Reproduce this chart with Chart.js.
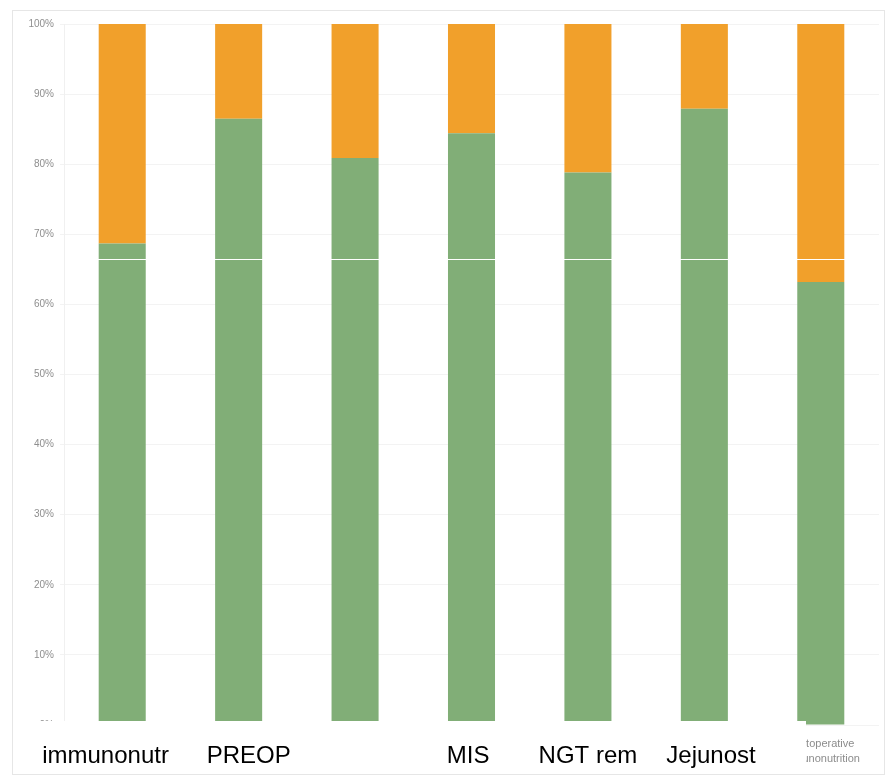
<!DOCTYPE html>
<html>
<head>
<meta charset="utf-8">
<script src="https://cdn.jsdelivr.net/npm/chart.js@4.4.1/dist/chart.umd.min.js"></script>
<style>
  html, body { margin: 0; padding: 0; background: #ffffff; }
  #wrap { width: 893px; height: 779px; }
</style>
</head>
<body>
<div id="wrap"><canvas id="c" width="893" height="779"></canvas></div>
<script>
// Category labels along the x axis
const categories = ["immunonutr", "PREOP", "", "MIS", "NGT rem", "Jejunost", ["Postoperative", "immunonutrition"]];

// Share of patients per item (percent)
const compliant    = [68.7, 86.5, 80.9, 84.4, 78.8, 87.9, 63.2];
const notCompliant = [31.3, 13.5, 19.1, 15.6, 21.2, 12.1, 36.8];

// Y axis ticks
const yTicks = [0, 10, 20, 30, 40, 50, 60, 70, 80, 90, 100];

const GREEN = "#81ae77";
const ORANGE = "#f1a02b";
const FONT = "'Liberation Sans', Arial, sans-serif";

// Nudges for the large labels, in space characters (negative = shift left)
const labelNudge = [-5, 3, 0, -1, 0, 2, 0];

function nudged(text, n) {
  if (Array.isArray(text) || !n) return text;
  const pad = " ".repeat(Math.abs(n));
  return n < 0 ? text + pad : pad + text;
}

// White label strip geometry
const STRIP_LEFT = 13;
const STRIP_RIGHT = 806;
const STRIP_BOTTOM = 770;

// Frame, white label strip and the thin seam line across the bars
const decorations = {
  id: "decorations",
  beforeDraw(chart) {
    const ctx = chart.ctx;
    ctx.save();
    ctx.fillStyle = "#ffffff";
    ctx.fillRect(0, 0, chart.width, chart.height);
    ctx.strokeStyle = "#e6e6e6";
    ctx.lineWidth = 1;
    ctx.strokeRect(12.5, 10.5, 872, 764);
    ctx.restore();
  },
  afterDatasetsDraw(chart) {
    const ctx = chart.ctx;
    const y = chart.scales.y;
    const area = chart.chartArea;
    ctx.save();
    // seam
    const seamY = Math.round(y.getPixelForValue(66.5)) + 0.5;
    ctx.strokeStyle = "#ffffff";
    ctx.lineWidth = 1;
    ctx.beginPath();
    ctx.moveTo(area.left + 32, seamY);
    ctx.lineTo(area.right - 33, seamY);
    ctx.stroke();
    // label strip
    const top = Math.round(y.getPixelForValue(0)) - 4;
    ctx.fillStyle = "#ffffff";
    ctx.fillRect(STRIP_LEFT, top, STRIP_RIGHT - STRIP_LEFT, STRIP_BOTTOM - top);
    ctx.restore();
  },
  afterDraw(chart) {
    // the strip's right edge also trims the small last label
    const ctx = chart.ctx;
    const top = Math.round(chart.scales.y.getPixelForValue(0)) + 6;
    ctx.save();
    ctx.fillStyle = "#ffffff";
    ctx.fillRect(STRIP_RIGHT - 40, top, 40, STRIP_BOTTOM - top);
    ctx.restore();
  }
};

new Chart(document.getElementById("c"), {
  type: "bar",
  data: {
    labels: categories,
    datasets: [
      { label: "Compliant", data: compliant, backgroundColor: GREEN, borderWidth: 0 },
      { label: "Not compliant", data: notCompliant, backgroundColor: ORANGE, borderWidth: 0 }
    ]
  },
  options: {
    responsive: false,
    animation: false,
    devicePixelRatio: 1,
    layout: { padding: { top: 24, right: 14, left: 0, bottom: 0 } },
    plugins: {
      legend: { display: false },
      tooltip: { enabled: false }
    },
    datasets: {
      bar: { barPercentage: 0.404, categoryPercentage: 1.0 }
    },
    scales: {
      x: {
        stacked: true,
        grid: { display: false, drawTicks: false },
        border: { display: false },
        afterFit(scale) { scale.height = 54; },
        ticks: {
          z: 1,
          autoSkip: false,
          maxRotation: 0,
          minRotation: 0,
          padding: 11,
          callback(value, index) {
            return nudged(this.getLabelForValue(value), labelNudge[index]);
          },
          color: (ctx) => ctx.index === 6 ? "#8c8c8c" : "#000000",
          font: (ctx) => ctx.index === 6
            ? { family: FONT, size: 11, lineHeight: "15px" }
            : { family: FONT, size: 24, lineHeight: "40px" }
        }
      },
      y: {
        stacked: true,
        min: 0,
        max: 100,
        afterFit(scale) { scale.width = 64; },
        afterBuildTicks(scale) { scale.ticks = yTicks.map(v => ({ value: v })); },
        grid: { color: "#f3f3f3", tickLength: 4, drawTicks: true },
        border: { color: "#f0f0f0" },
        ticks: {
          padding: 6,
          color: "#8e8e8e",
          font: { family: FONT, size: 10 },
          callback: (v) => v + "%"
        }
      }
    }
  },
  plugins: [decorations]
});
</script>
</body>
</html>
